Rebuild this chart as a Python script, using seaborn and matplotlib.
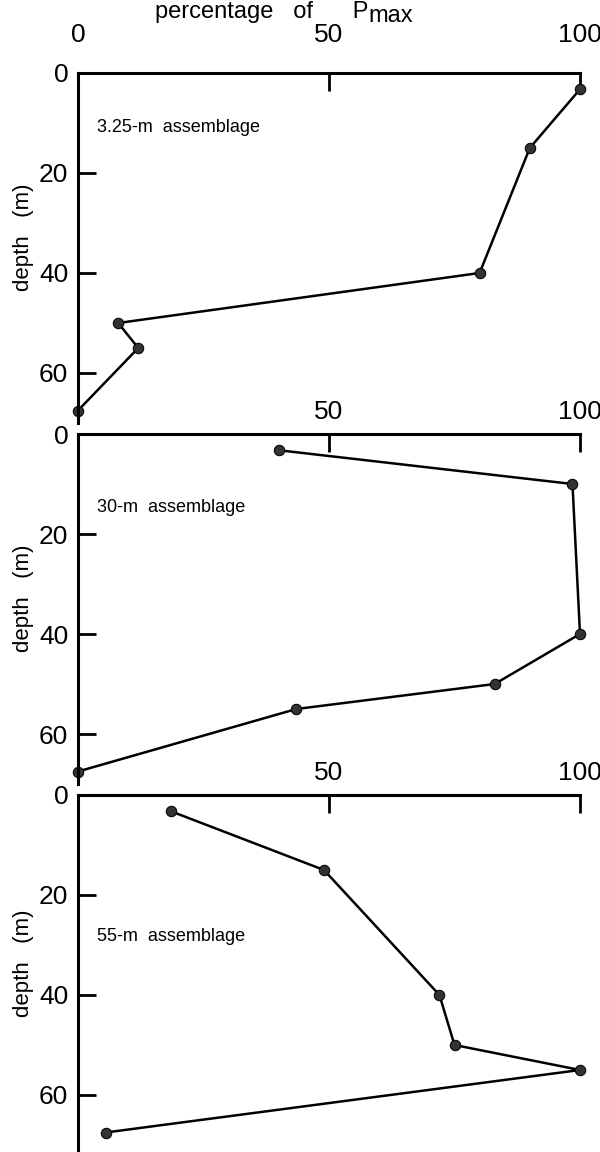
import matplotlib
matplotlib.use("Agg")
import matplotlib.pyplot as plt
import seaborn as sns
import pandas as pd

# ---- data ----
depth_325m = [3.25, 15, 40, 50, 55, 67.5]
depth_30m = [3.25, 10, 40, 50, 55, 67.5]
depth_55m = [3.25, 15, 40, 50, 55, 67.5]
pct_325m = [100, 90, 80, 8, 12, 0]
pct_30m = [40, 98.5, 100, 83, 43.5, 0]
pct_55m = [18.5, 49, 72, 75, 100, 5.5]
panel_labels = ["3.25-m  assemblage", "30-m  assemblage", "55-m  assemblage"]
label_depths = [10.8, 14.6, 28.3]
xticks = [0, 50, 100]
yticks = [0, 20, 40, 60]

sns.set_theme(style="white")
plt.rcParams['font.family'] = ['Liberation Sans', 'DejaVu Sans']

W, H = 600, 1152
fig = plt.figure(figsize=(W / 100, H / 100), dpi=100)

left_px, right_px = 78, 580
tops = [73, 434, 795]
heights = [350, 350, 357]
ylims = [70, 70, 71.4]
xpads = [18.5, 7.5, 7.5]
series = [(pct_325m, depth_325m), (pct_30m, depth_30m), (pct_55m, depth_55m)]

for i, (top, h, yl, (vals, dep)) in enumerate(zip(tops, heights, ylims, series)):
    ax = fig.add_axes([left_px / W, 1 - (top + h) / H, (right_px - left_px) / W, h / H])
    df = pd.DataFrame({"pct": vals, "depth": dep})
    sns.lineplot(data=df, x="pct", y="depth", orient="y", estimator=None,
                 color="black", linewidth=1.8, marker="o", markersize=7.5,
                 markerfacecolor="#333333", markeredgecolor="black",
                 ax=ax, clip_on=False)
    ax.set_xlim(0, 100)
    ax.set_ylim(yl, 0)
    for s in ["right", "bottom"]:
        ax.spines[s].set_visible(False)
    for s in ["top", "left"]:
        ax.spines[s].set_visible(True)
        ax.spines[s].set_linewidth(2.2)
        ax.spines[s].set_color("black")
    ax.xaxis.tick_top()
    ax.set_xticks(xticks)
    if i == 0:
        ax.set_xticklabels([str(t) for t in xticks])
    else:
        ax.set_xticklabels([""] + [str(t) for t in xticks[1:]])
    ax.set_yticks(yticks)
    ax.set_yticklabels([str(t) for t in yticks])
    ax.tick_params(axis="x", which="both", direction="in", length=13, width=2,
                   pad=xpads[i], labelsize=19, top=True, bottom=False, colors="black")
    ax.tick_params(axis="y", which="both", direction="in", length=13, width=2,
                   pad=7, labelsize=19, left=True, right=False, colors="black")
    ax.set_ylabel("depth   (m)", fontsize=16, color="black")
    ax.yaxis.set_label_coords(-0.088, 0.53)
    if i == 0:
        ax.xaxis.set_label_position("top")
        lbl = ax.set_xlabel("percentage   of      P", fontsize=17, color="black")
        ax.xaxis.set_label_coords(0.3655, 1.158)
        ax.annotate("max", xy=(1, 0), xycoords=lbl, xytext=(0.5, -3),
                    textcoords="offset points", fontsize=17, ha="left",
                    va="bottom", color="black", annotation_clip=False)
    else:
        ax.set_xlabel("")
    ax.text(3.7, label_depths[i], panel_labels[i], fontsize=13, va="center",
            ha="left", color="black")
    ax.patch.set_alpha(0)

fig.savefig("out.png", dpi=100)
